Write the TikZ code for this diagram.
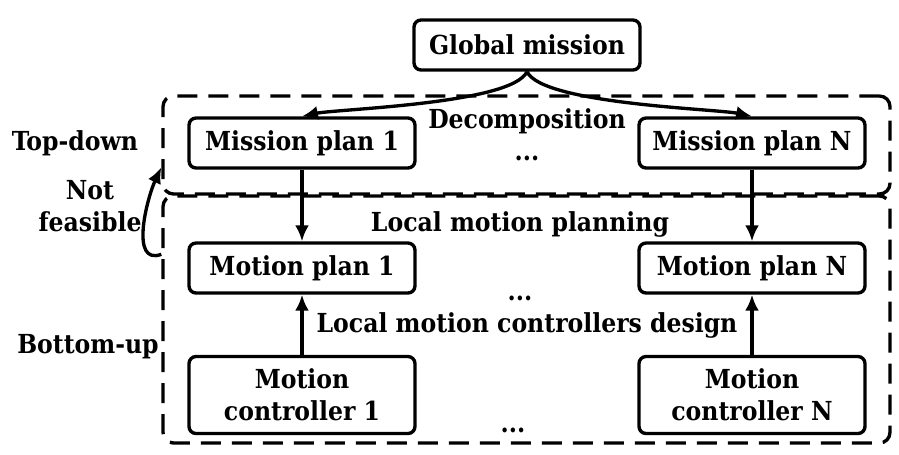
\documentclass[tikz,border=0pt]{standalone}
\usepackage{fontspec}
\setmainfont{DejaVu Serif Condensed}
\usetikzlibrary{arrows.meta,positioning}

\begin{document}
\begin{tikzpicture}[>={Latex[length=3.2mm,width=2.8mm]},line width=1.9pt,node distance=2.5cm,on grid,
  font=\fontsize{14.9}{18}\selectfont\bfseries,
  block/.style={draw,rounded corners=4pt,minimum width=4.52cm,minimum height=1cm,align=center},
  group/.style={draw,dash pattern=on 0.4cm off 0.22cm,rounded corners=6pt,minimum width=14.54cm}]
\useasboundingbox (-6.04,2.86) rectangle (11.94,-6.22);
\node[block] (mp_1) {Mission plan 1};
\node[block] (mp_N) [right=9cm of mp_1] {Mission plan N};
\node[block] (gm) [above right=1.96cm and 4.5cm of mp_1] {Global mission};
\node[block] (mot_1) [below=of mp_1] {Motion plan 1};
\node[block] (mot_N) [below=of mp_N] {Motion plan N};
\node[block,minimum height=1.54cm] (mc_1) [below=2.54cm of mot_1] {Motion\\controller 1};
\node[block,minimum height=1.54cm] (mc_N) [below=2.54cm of mot_N] {Motion\\controller N};
\node[group,minimum height=1.96cm] (top) at (4.49,-0.04) {};
\node[group,minimum height=4.94cm] (bottom) at (4.49,-3.53) {};
\node[align=center] (dec) at (4.5,0.16) {Decomposition\\...};
\node (lmp) at (4.36,-1.62) {Local motion planning};
\node (dots_1) at (4.36,-3.1) {...};
\node (lmc) at (4.5,-3.64) {Local motion controllers design};
\node (dots_2) at (4.22,-5.74) {...};
\node (td) at (-4.54,0) {Top-down};
\node[align=center] (nf) at (-4.24,-1.26) {Not\\feasible};
\node (bu) at (-4.28,-4.08) {Bottom-up};
\path[->]
  (gm.south) edge [out=-115,in=12,looseness=0.4] (mp_1.north)
  (gm.south) edge [out=-65,in=168,looseness=0.4] (mp_N.north)
  (mp_1) edge (mot_1)
  (mp_N) edge (mot_N)
  (mc_1) edge (mot_1)
  (mc_N) edge (mot_N);
\coordinate (nf_a) at ([yshift=-1.2cm]bottom.north west);
\coordinate (nf_b) at ([yshift=-1.46cm]top.north west);
\draw[->] (nf_a) to [out=200,in=-115] (nf_b);
\end{tikzpicture}
\end{document}
